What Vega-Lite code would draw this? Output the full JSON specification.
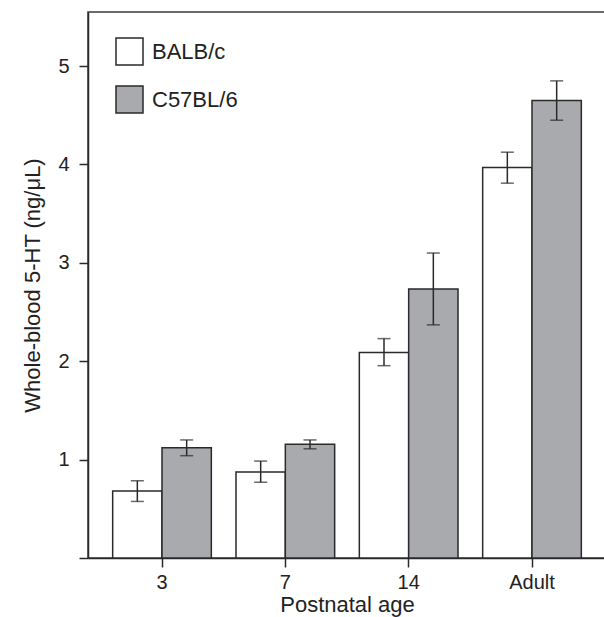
{
  "$schema": "https://vega.github.io/schema/vega-lite/v6.json",
  "width": 518,
  "height": 546,
  "autosize": "none",
  "padding": {"left": 88, "top": 12, "right": 0, "bottom": 59},
  "config": {
    "font": "Liberation Sans",
    "view": {"stroke": "#3a3a3a", "strokeWidth": 1.5},
    "axis": {
      "domainColor": "#2a2a2a", "domainWidth": 1.5,
      "tickColor": "#2a2a2a", "tickWidth": 1.5, "tickSize": 9,
      "labelFont": "Liberation Sans", "labelFontSize": 20, "labelColor": "#222",
      "titleFont": "Liberation Sans", "titleFontSize": 22, "titleFontWeight": "normal", "titleColor": "#222",
      "grid": false, "labelPadding": 9
    }
  },
  "data": {"values": [
    {"age": "3", "strain": "BALB/c", "mean": 0.68, "lo": 0.575, "hi": 0.785},
    {"age": "3", "strain": "C57BL/6", "mean": 1.12, "lo": 1.04, "hi": 1.2},
    {"age": "7", "strain": "BALB/c", "mean": 0.875, "lo": 0.77, "hi": 0.985},
    {"age": "7", "strain": "C57BL/6", "mean": 1.155, "lo": 1.11, "hi": 1.2},
    {"age": "14", "strain": "BALB/c", "mean": 2.09, "lo": 1.955, "hi": 2.23},
    {"age": "14", "strain": "C57BL/6", "mean": 2.735, "lo": 2.37, "hi": 3.1},
    {"age": "Adult", "strain": "BALB/c", "mean": 3.97, "lo": 3.81, "hi": 4.125},
    {"age": "Adult", "strain": "C57BL/6", "mean": 4.65, "lo": 4.45, "hi": 4.85}
  ]},
  "encoding": {
    "x": {
      "field": "age", "type": "nominal", "sort": ["3", "7", "14", "Adult"],
      "scale": {"paddingInner": 0.2, "paddingOuter": 0.2},
      "axis": {"title": "Postnatal age", "labelAngle": 0, "labelFontSize": 20, "titleFontSize": 22, "titlePadding": 2, "labelPadding": 5}
    },
    "xOffset": {"field": "strain", "type": "nominal", "sort": ["BALB/c", "C57BL/6"], "scale": {"paddingInner": 0, "paddingOuter": 0}}
  },
  "layer": [
    {
      "mark": {"type": "bar", "stroke": "#2a2a2a", "strokeWidth": 1.5},
      "encoding": {
        "y": {
          "field": "mean", "type": "quantitative",
          "scale": {"domain": [0, 5.55], "nice": false, "zero": true},
          "axis": {
            "title": "Whole-blood 5-HT (ng/\u03bcL)", "values": [0, 1, 2, 3, 4, 5], "format": "d",
            "labelExpr": "datum.value == 0 ? '' : datum.label", "labelFontSize": 20, "titleFontSize": 22,
            "titlePadding": 13, "labelPadding": 10
          }
        },
        "fill": {
          "field": "strain", "type": "nominal",
          "scale": {"domain": ["BALB/c", "C57BL/6"], "range": ["#ffffff", "#a9aaad"]},
          "legend": {
            "title": null, "orient": "none", "legendX": 27, "legendY": 25,
            "symbolType": "square", "symbolSize": 729, "symbolStrokeColor": "#2a2a2a", "symbolStrokeWidth": 1.5,
            "labelFontSize": 22, "labelFont": "Liberation Sans", "labelColor": "#222", "labelOffset": 8,
            "rowPadding": 15, "padding": 0
          }
        }
      }
    },
    {
      "mark": {"type": "rule", "color": "#2a2a2a", "strokeWidth": 1.5},
      "encoding": {
        "y": {"field": "lo", "type": "quantitative"},
        "y2": {"field": "hi"}
      }
    },
    {
      "mark": {"type": "tick", "color": "#2a2a2a", "thickness": 1.5, "size": 13, "orient": "horizontal"},
      "encoding": {"y": {"field": "lo", "type": "quantitative"}}
    },
    {
      "mark": {"type": "tick", "color": "#2a2a2a", "thickness": 1.5, "size": 13, "orient": "horizontal"},
      "encoding": {"y": {"field": "hi", "type": "quantitative"}}
    }
  ]
}
